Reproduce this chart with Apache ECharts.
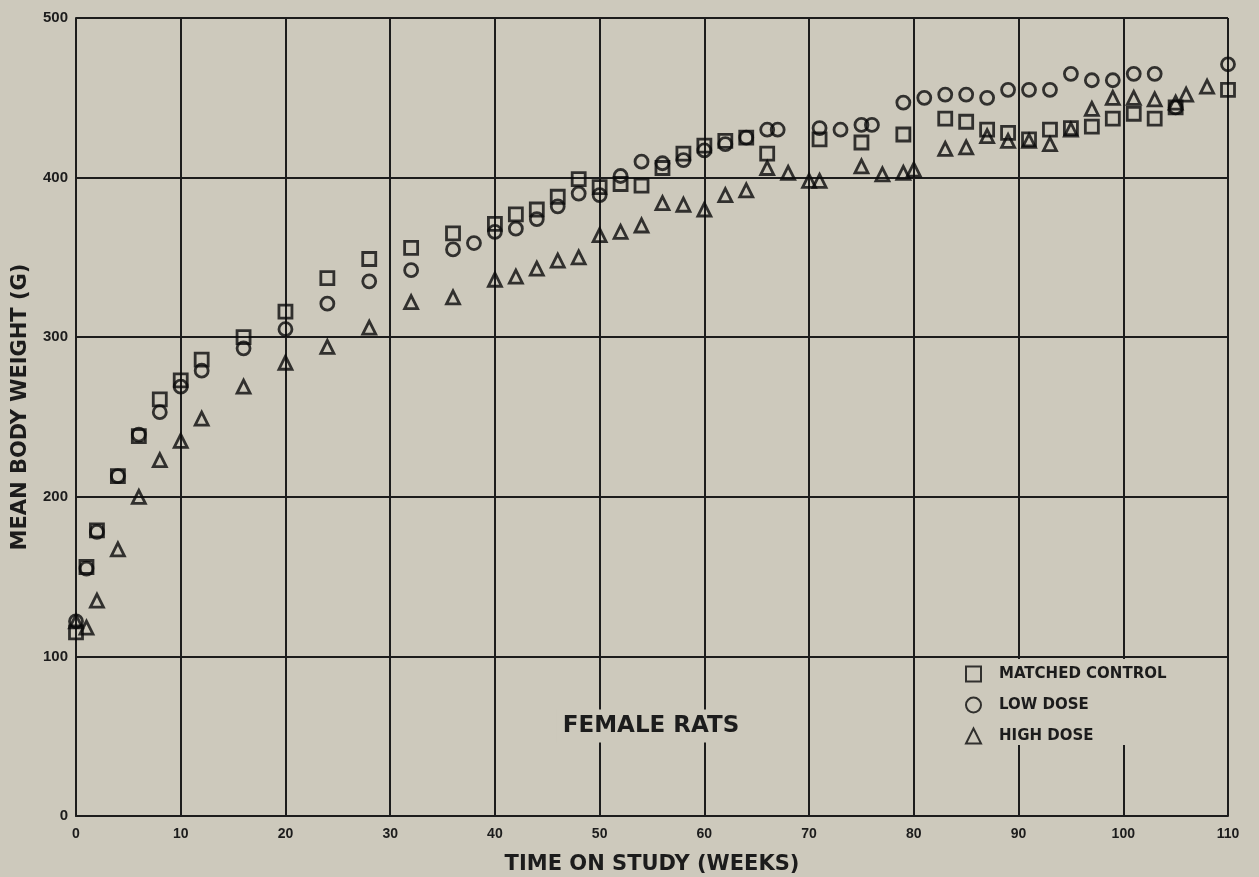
<!DOCTYPE html>
<html>
<head>
<meta charset="utf-8">
<script src="https://cdn.jsdelivr.net/npm/echarts@6/dist/echarts.min.js"></script>
<style>
  html, body { margin: 0; padding: 0; background: #cdc9bc; }
  #chart { width: 1259px; height: 877px; }
</style>
</head>
<body>
<div id="chart"></div>
<script>
// Mean body weight (g) of female rats by week on study
const controlWeeks = [0, 1, 2, 4, 6, 8, 10, 12, 16, 20, 24, 28, 32, 36, 40, 42, 44, 46, 48, 50, 52, 54, 56, 58, 60, 62, 64, 66, 71, 75, 79, 83, 85, 87, 89, 91, 93, 95, 97, 99, 101, 103, 105, 110];
const controlWeights = [115, 156, 179, 213, 238, 261, 273, 286, 300, 316, 337, 349, 356, 365, 371, 377, 380, 388, 399, 394, 396, 395, 406, 415, 420, 423, 425, 415, 424, 422, 427, 437, 435, 430, 428, 424, 430, 431, 432, 437, 440, 437, 444, 455];

const lowWeeks = [0, 1, 2, 4, 6, 8, 10, 12, 16, 20, 24, 28, 32, 36, 38, 40, 42, 44, 46, 48, 50, 52, 54, 56, 58, 60, 62, 64, 66, 67, 71, 73, 75, 76, 79, 81, 83, 85, 87, 89, 91, 93, 95, 97, 99, 101, 103, 105, 110];
const lowWeights = [122, 155, 178, 213, 239, 253, 269, 279, 293, 305, 321, 335, 342, 355, 359, 366, 368, 374, 382, 390, 389, 401, 410, 409, 411, 417, 421, 425, 430, 430, 431, 430, 433, 433, 447, 450, 452, 452, 450, 455, 455, 455, 465, 461, 461, 465, 465, 444, 471];

const highWeeks = [0, 1, 2, 4, 6, 8, 10, 12, 16, 20, 24, 28, 32, 36, 40, 42, 44, 46, 48, 50, 52, 54, 56, 58, 60, 62, 64, 66, 68, 70, 71, 75, 77, 79, 80, 83, 85, 87, 89, 91, 93, 95, 97, 99, 101, 103, 105, 106, 108];
const highWeights = [122, 118, 135, 167, 200, 223, 235, 249, 269, 284, 294, 306, 322, 325, 336, 338, 343, 348, 350, 364, 366, 370, 384, 383, 380, 389, 392, 406, 403, 398, 398, 407, 402, 403, 405, 418, 419, 426, 423, 423, 421, 430, 443, 450, 450, 449, 447, 452, 457];

const xTicks = { min: 0, max: 110, step: 10 };
const yTicks = { min: 0, max: 500, step: 100 };

const seriesNames = ['MATCHED CONTROL', 'LOW DOSE', 'HIGH DOSE'];
const seriesSymbols = ['rect', 'circle', 'triangle'];

const ink = '#1c1c1c';
const markInk = '#0a0a0a';
const paper = '#cdc9bc';

function pairs(xs, ys) {
  return xs.map((x, i) => [x, ys[i]]);
}

const groups = [
  pairs(controlWeeks, controlWeights),
  pairs(lowWeeks, lowWeights),
  pairs(highWeeks, highWeights)
];

const chart = echarts.init(document.getElementById('chart'), null, { renderer: 'canvas' });

chart.setOption({
  backgroundColor: paper,
  animation: false,
  grid: { left: 76, right: 31, top: 18, bottom: 61, containLabel: false, outerBoundsMode: 'none' },
  xAxis: {
    type: 'value',
    min: xTicks.min, max: xTicks.max, interval: xTicks.step,
    name: 'TIME ON STUDY (WEEKS)',
    nameLocation: 'middle',
    nameGap: 38,
    nameTextStyle: { fontFamily: 'DejaVu Sans', fontWeight: 'bold', fontSize: 21, color: ink },
    axisLine: { show: true, lineStyle: { color: ink, width: 2 } },
    axisTick: { show: false },
    axisLabel: { margin: 11, fontFamily: 'Liberation Sans', fontWeight: 'bold', fontSize: 14, color: ink },
    splitLine: { show: true, lineStyle: { color: ink, width: 2 } }
  },
  yAxis: {
    type: 'value',
    min: yTicks.min, max: yTicks.max, interval: yTicks.step,
    axisLine: { show: true, lineStyle: { color: ink, width: 2 } },
    axisTick: { show: false },
    axisLabel: { margin: 8, fontFamily: 'Liberation Sans', fontWeight: 'bold', fontSize: 15, color: ink },
    splitLine: { show: true, lineStyle: { color: ink, width: 2 } }
  },
  legend: {
    orient: 'vertical',
    left: 965,
    top: 665.5,
    padding: 0,
    itemWidth: 15,
    itemHeight: 15,
    itemGap: 14,
    data: seriesNames,
    textStyle: {
      fontFamily: 'DejaVu Sans', fontWeight: 'bold', fontSize: 15, color: ink,
      lineHeight: 15, padding: [0, 0, 0, 13]
    }
  },
  graphic: [
    {
      // patch that clears the grid lines behind the legend
      type: 'rect', z: 1, silent: true,
      shape: { x: 918, y: 659, width: 307, height: 86 },
      style: { fill: paper }
    },
    {
      type: 'text', z: 1, silent: true,
      x: 651, y: 726,
      style: {
        text: 'FEMALE RATS',
        font: 'bold 23px "DejaVu Sans"',
        fill: ink,
        align: 'center',
        verticalAlign: 'middle',
        backgroundColor: paper,
        padding: [5, 6]
      }
    },
    {
      type: 'text', z: 1, silent: true,
      x: 21, y: 407,
      rotation: Math.PI / 2,
      style: {
        text: 'MEAN BODY WEIGHT (G)',
        font: 'bold 21px "DejaVu Sans"',
        fill: ink,
        align: 'center',
        verticalAlign: 'middle'
      }
    }
  ],
  series: groups.map((data, i) => ({
    name: seriesNames[i],
    type: 'scatter',
    z: 3,
    symbol: seriesSymbols[i],
    symbolSize: 13,
    data: data,
    itemStyle: { color: 'transparent', borderColor: markInk, borderWidth: 2.8 }
  }))
});
</script>
</body>
</html>
